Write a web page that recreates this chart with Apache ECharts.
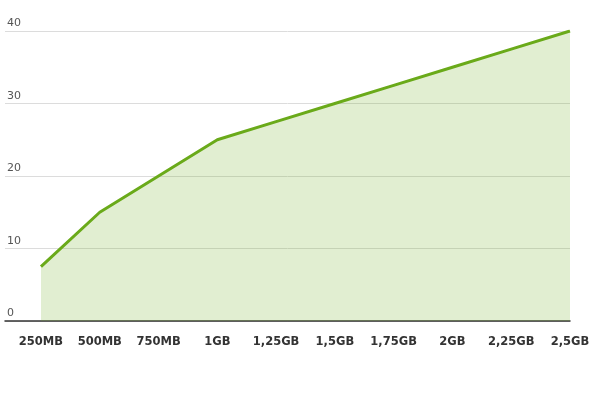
<!DOCTYPE html>
<html>
<head>
<meta charset="utf-8">
<script src="https://cdn.jsdelivr.net/npm/echarts@6/dist/echarts.min.js"></script>
<style>html,body{margin:0;padding:0;background:#fff}#c{width:600px;height:400px}</style>
</head>
<body>
<div id="c"></div>
<script>
var categories = ['250MB','500MB','750MB','1GB','1,25GB','1,5GB','1,75GB','2GB','2,25GB','2,5GB'];
var values = [7.5, 15, 20, 25, 27.5, 30, 32.5, 35, 37.5, 40];
var yTicks = [0, 10, 20, 30, 40];

var idx = categories.map(function(_, i){ return i; });
var data = values.map(function(v, i){ return [i, v]; });

var chart = echarts.init(document.getElementById('c'));
chart.setOption({
  animation: false,
  grid: {left: 5, right: 30, top: 31, bottom: 79, containLabel: false},
  xAxis: {
    type: 'value',
    min: -0.612,
    max: 9,
    splitLine: {show: false},
    axisLine: {show: true, onZero: false, lineStyle: {color: '#333', width: 1.5}},
    axisTick: {show: false},
    axisLabel: {
      customValues: idx,
      formatter: function(v){ return categories[Math.round(v)]; },
      color: '#333', fontFamily: 'DejaVu Sans', fontWeight: 'bold', fontSize: 11.5, margin: 15,
      showMinLabel: true, showMaxLabel: true
    }
  },
  yAxis: {
    type: 'value',
    min: 0, max: 40, interval: 10,
    axisLine: {show: false},
    axisTick: {show: false},
    splitLine: {show: true, lineStyle: {color: '#dcdcdc', width: 1}},
    axisLabel: {
      inside: true, margin: 2, verticalAlign: 'bottom', padding: [0,0,2,0],
      color: '#555', fontFamily: 'DejaVu Sans', fontSize: 11,
      formatter: function(v){ return yTicks.indexOf(v) >= 0 ? String(v) : ''; }
    }
  },
  series: [{
    type: 'line',
    data: data,
    symbol: 'none',
    lineStyle: {color: '#6aaa1a', width: 3},
    areaStyle: {color: 'rgba(106,170,26,0.2)', opacity: 1, origin: 'start'},
    z: 1
  }]
});
</script>
</body>
</html>
